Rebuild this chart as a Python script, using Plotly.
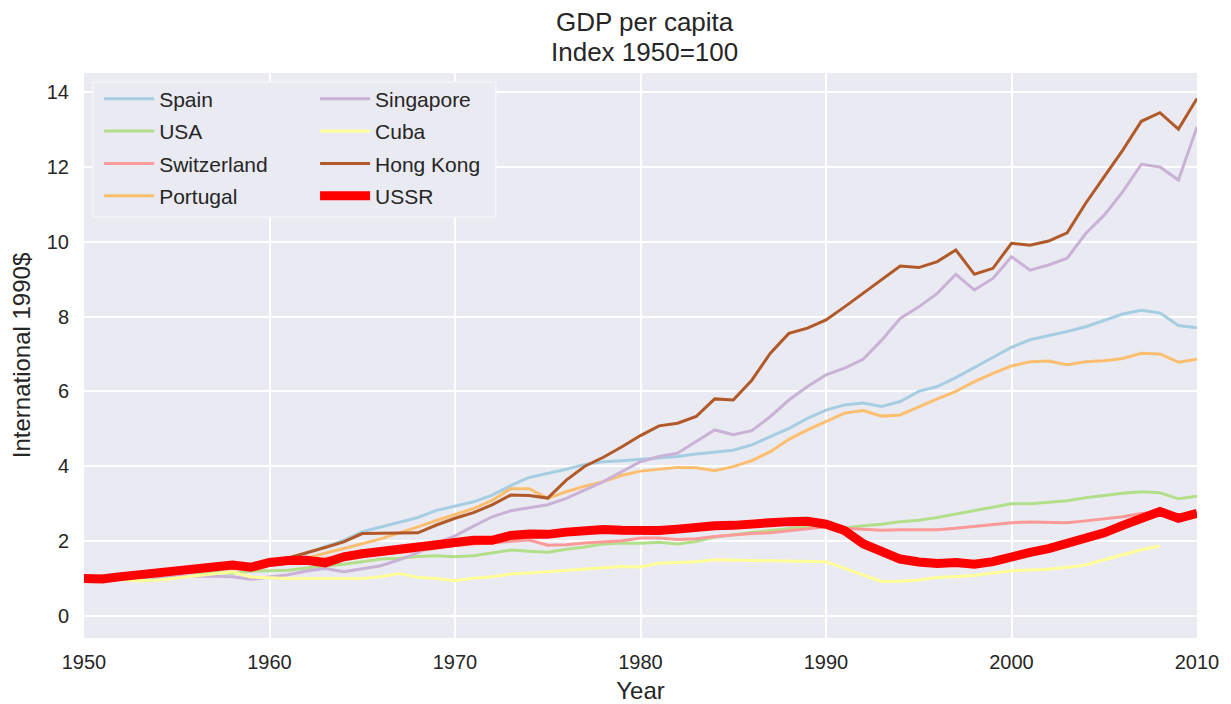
import plotly.graph_objects as go

years = list(range(1950, 2011))

spain = [1.00, 1.08, 1.13, 1.12, 1.18, 1.22, 1.30, 1.35, 1.40, 1.35,
         1.38, 1.52, 1.67, 1.85, 2.02, 2.25, 2.38, 2.50, 2.63, 2.82,
         2.93, 3.05, 3.23, 3.48, 3.70, 3.80, 3.92, 4.05, 4.12, 4.15,
         4.19, 4.21, 4.26, 4.33, 4.37, 4.43, 4.57, 4.79, 5.01, 5.28,
         5.50, 5.64, 5.69, 5.60, 5.73, 6.00, 6.13, 6.37, 6.64, 6.92,
         7.18, 7.38, 7.48, 7.60, 7.73, 7.89, 8.07, 8.17, 8.10, 7.76, 7.70]
usa = [1.00, 1.06, 1.08, 1.12, 1.09, 1.15, 1.16, 1.17, 1.14, 1.20,
       1.21, 1.22, 1.28, 1.32, 1.38, 1.45, 1.52, 1.54, 1.59, 1.61,
       1.58, 1.61, 1.68, 1.76, 1.73, 1.70, 1.78, 1.84, 1.92, 1.95,
       1.94, 1.97, 1.92, 1.99, 2.11, 2.18, 2.23, 2.28, 2.34, 2.38,
       2.38, 2.35, 2.41, 2.45, 2.52, 2.56, 2.63, 2.72, 2.81, 2.91,
       3.00, 3.00, 3.03, 3.08, 3.16, 3.23, 3.28, 3.32, 3.29, 3.13, 3.20]
switzerland = [1.00, 1.07, 1.06, 1.09, 1.14, 1.20, 1.26, 1.28, 1.25, 1.32,
               1.39, 1.46, 1.50, 1.54, 1.59, 1.62, 1.65, 1.69, 1.74, 1.81,
               1.88, 1.92, 1.96, 2.01, 2.03, 1.89, 1.90, 1.95, 1.97, 2.01,
               2.08, 2.08, 2.04, 2.06, 2.12, 2.17, 2.20, 2.22, 2.27, 2.34,
               2.38, 2.34, 2.31, 2.29, 2.30, 2.30, 2.30, 2.34, 2.39, 2.42,
               2.49, 2.51, 2.50, 2.49, 2.54, 2.59, 2.65, 2.74, 2.78, 2.70, 2.76]
portugal = [1.00, 1.03, 1.04, 1.10, 1.14, 1.18, 1.23, 1.28, 1.28, 1.34,
            1.40, 1.47, 1.55, 1.67, 1.80, 1.93, 2.06, 2.21, 2.38, 2.55,
            2.70, 2.87, 3.09, 3.40, 3.40, 3.14, 3.32, 3.47, 3.59, 3.76,
            3.87, 3.91, 3.97, 3.96, 3.88, 3.99, 4.15, 4.39, 4.72, 4.97,
            5.19, 5.42, 5.49, 5.34, 5.37, 5.59, 5.80, 6.00, 6.26, 6.48,
            6.68, 6.79, 6.81, 6.71, 6.79, 6.82, 6.88, 7.02, 7.00, 6.78, 6.86]
singapore = [1.00, 1.00, 1.02, 1.00, 1.02, 1.05, 1.07, 1.06, 1.05, 0.98,
             1.05, 1.10, 1.20, 1.27, 1.18, 1.25, 1.34, 1.50, 1.69, 1.94,
             2.14, 2.40, 2.65, 2.81, 2.90, 2.97, 3.14, 3.37, 3.59, 3.86,
             4.12, 4.26, 4.35, 4.66, 4.97, 4.84, 4.95, 5.33, 5.77, 6.13,
             6.44, 6.62, 6.86, 7.37, 7.95, 8.26, 8.62, 9.13, 8.71, 9.02,
             9.60, 9.24, 9.38, 9.56, 10.22, 10.71, 11.34, 12.07, 12.00, 11.65, 13.07]
cuba = [1.00, 1.00, 0.97, 0.94, 0.96, 1.02, 1.07, 1.13, 1.18, 1.04,
        1.01, 1.00, 1.00, 1.00, 0.99, 1.00, 1.05, 1.13, 1.03, 1.00,
        0.94, 1.01, 1.05, 1.12, 1.15, 1.19, 1.21, 1.25, 1.29, 1.32,
        1.31, 1.41, 1.42, 1.45, 1.50, 1.49, 1.48, 1.47, 1.47, 1.47,
        1.45, 1.27, 1.10, 0.92, 0.93, 0.96, 1.03, 1.05, 1.08, 1.15,
        1.21, 1.23, 1.25, 1.30, 1.36, 1.50, 1.63, 1.77, 1.87, None, None]
hong_kong = [1.00, 1.02, 1.05, 1.09, 1.14, 1.20, 1.26, 1.31, 1.34, 1.32,
             1.42, 1.55, 1.68, 1.83, 1.98, 2.20, 2.21, 2.21, 2.22, 2.43,
             2.61, 2.76, 2.97, 3.23, 3.22, 3.15, 3.63, 4.00, 4.24, 4.52,
             4.82, 5.08, 5.15, 5.33, 5.80, 5.77, 6.30, 7.02, 7.55, 7.69,
             7.91, 8.26, 8.62, 9.00, 9.35, 9.31, 9.47, 9.78, 9.13, 9.29,
             9.96, 9.91, 10.02, 10.24, 11.03, 11.74, 12.45, 13.22, 13.45, 13.01, 13.83]
ussr = [1.00, 0.99, 1.05, 1.10, 1.16, 1.24, 1.28, 1.31, 1.36, 1.30,
        1.43, 1.48, 1.49, 1.42, 1.58, 1.66, 1.73, 1.79, 1.87, 1.93,
        2.00, 2.02, 2.02, 2.15, 2.19, 2.18, 2.24, 2.28, 2.31, 2.29,
        2.27, 2.28, 2.32, 2.38, 2.41, 2.42, 2.48, 2.49, 2.52, 2.53,
        2.45, 2.28, 1.93, 1.73, 1.52, 1.44, 1.40, 1.43, 1.38, 1.45,
        1.60, 1.70, 1.80, 1.93, 2.08, 2.22, 2.42, 2.62, 2.79, 2.61, 2.74]

title_lines = ["GDP per capita", "Index 1950=100"]

series = [
    ("Spain", spain, "#a6cee3", 3, "legend"),
    ("USA", usa, "#b2df8a", 3, "legend"),
    ("Switzerland", switzerland, "#fb9a99", 3, "legend"),
    ("Portugal", portugal, "#fdbf6f", 3, "legend"),
    ("Singapore", singapore, "#cab2d6", 3, "legend2"),
    ("Cuba", cuba, "#ffff99", 3, "legend2"),
    ("Hong Kong", hong_kong, "#b15928", 3, "legend2"),
    ("USSR", ussr, "#ff0000", 9, "legend2"),
]

fig = go.Figure()
for name, vals, color, width, leg in series:
    fig.add_trace(go.Scatter(
        x=years, y=vals, name=name, mode="lines",
        line=dict(color=color, width=width),
        legend=leg, legendgroup=name, connectgaps=False,
    ))

text_color = "#262626"
font_family = "Liberation Sans, Arial, sans-serif"

legend_common = dict(
    yanchor="top", y=0.99, xanchor="left",
    bgcolor="rgba(0,0,0,0)", font=dict(size=21, color=text_color),
    traceorder="grouped", tracegroupgap=2, itemwidth=50,
)

fig.update_layout(
    width=1223, height=696,
    paper_bgcolor="white",
    plot_bgcolor="#eaeaf2",
    font=dict(family=font_family, color=text_color, size=20),
    margin=dict(l=76, r=34, t=65, b=66, autoexpand=False),
    xaxis=dict(
        range=[1950, 2010], tickmode="linear", tick0=1950, dtick=10,
        showgrid=True, gridcolor="white", gridwidth=1.5,
        zeroline=False, showline=False, ticks="",
        ticklabelstandoff=10,
        title=dict(text="Year", font=dict(size=24), standoff=12),
        tickfont=dict(size=20),
    ),
    yaxis=dict(
        range=[-0.59, 14.51], tickmode="linear", tick0=0, dtick=2,
        showgrid=True, gridcolor="white", gridwidth=1.5,
        zeroline=False, showline=False, ticks="",
        ticklabelstandoff=14,
        title=dict(text="International 1990$", font=dict(size=24), standoff=12),
        tickfont=dict(size=20),
    ),
    legend=dict(x=0.0136, **legend_common),
    legend2=dict(x=0.2076, **legend_common),
    showlegend=True,
)

# Two-line title, each line placed above the plot area
for line_text, shift in zip(title_lines, [51, 21]):
    fig.add_annotation(
        text=line_text, xref="paper", yref="paper", x=0.5036, y=1,
        xanchor="center", yanchor="middle", yshift=shift, showarrow=False,
        font=dict(size=26, color=text_color, family=font_family),
    )

fig.add_shape(
    type="rect", xref="paper", yref="paper",
    x0=0.008, x1=0.370, y0=0.745, y1=0.984,
    fillcolor="#eaeaf2", line=dict(color="#f4f4f8", width=1.5),
    layer="above",
)

fig.write_html("out.html")
